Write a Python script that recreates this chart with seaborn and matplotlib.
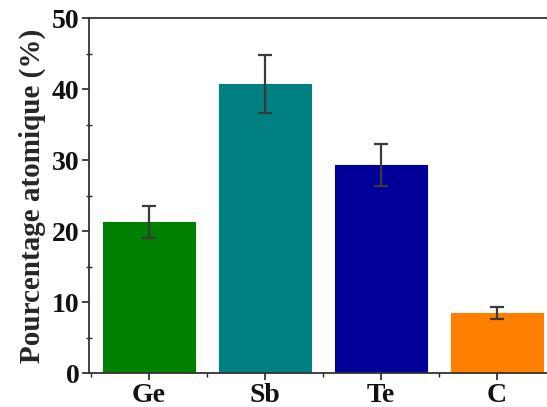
import pandas as pd
import matplotlib
matplotlib.use("Agg")
import matplotlib.pyplot as plt
from matplotlib.ticker import MultipleLocator
import seaborn as sns

# Data
elements = ["Ge", "Sb", "Te", "C"]
percent = [21.3, 40.7, 29.3, 8.4]
errors = [2.2, 4.1, 3.0, 0.85]
colors = ["#007F00", "#008080", "#000099", "#FF7F00"]

data = pd.DataFrame({"Element": elements, "Percent": percent})

sns.set_style("ticks")
plt.rcParams['font.family'] = ['Liberation Serif', 'DejaVu Serif']
plt.rcParams['font.weight'] = 'bold'

fig = plt.figure(figsize=(5.47, 4.07), dpi=100)
ax = fig.add_axes([0.1633, 0.0835, 0.851, 0.8716])

sns.barplot(x="Element", y="Percent", data=data, hue="Element",
            palette=colors, legend=False, width=0.79, ax=ax, saturation=1,
            linewidth=0.8, errorbar=None)
for p, c in zip(ax.patches, colors):
    p.set_edgecolor(c)

# error bars on the same categorical positions
ax.errorbar(range(len(elements)), percent, yerr=errors, fmt="none",
            ecolor="#3a3a3a", elinewidth=1.6, capsize=5, capthick=1.6)

ax.set_xlim(-0.515, 3.5)
ax.set_ylim(0, 50)
ax.yaxis.set_major_locator(MultipleLocator(10))
ax.yaxis.set_minor_locator(MultipleLocator(5))
ax.xaxis.set_minor_locator(MultipleLocator(0.5))

ax.set_xlabel("")
ax.set_ylabel("Pourcentage atomique (%)", fontsize=21, fontweight="bold", labelpad=4)

ax.tick_params(axis="both", which="major", labelsize=20, width=1.2, length=5,
               direction="out", colors="#222222", pad=2)
ax.tick_params(axis="y", which="minor", length=4, width=1.0, direction="inout")
ax.tick_params(axis="x", which="minor", length=3, width=1.0, direction="out")
for lab in ax.get_xticklabels() + ax.get_yticklabels():
    lab.set_fontweight("bold")
    lab.set_color("#111111")

for s in ["left", "bottom", "top"]:
    ax.spines[s].set_linewidth(1.3)
    ax.spines[s].set_color("#333333")
ax.spines["right"].set_visible(False)

fig.savefig("out.png", dpi=100)
